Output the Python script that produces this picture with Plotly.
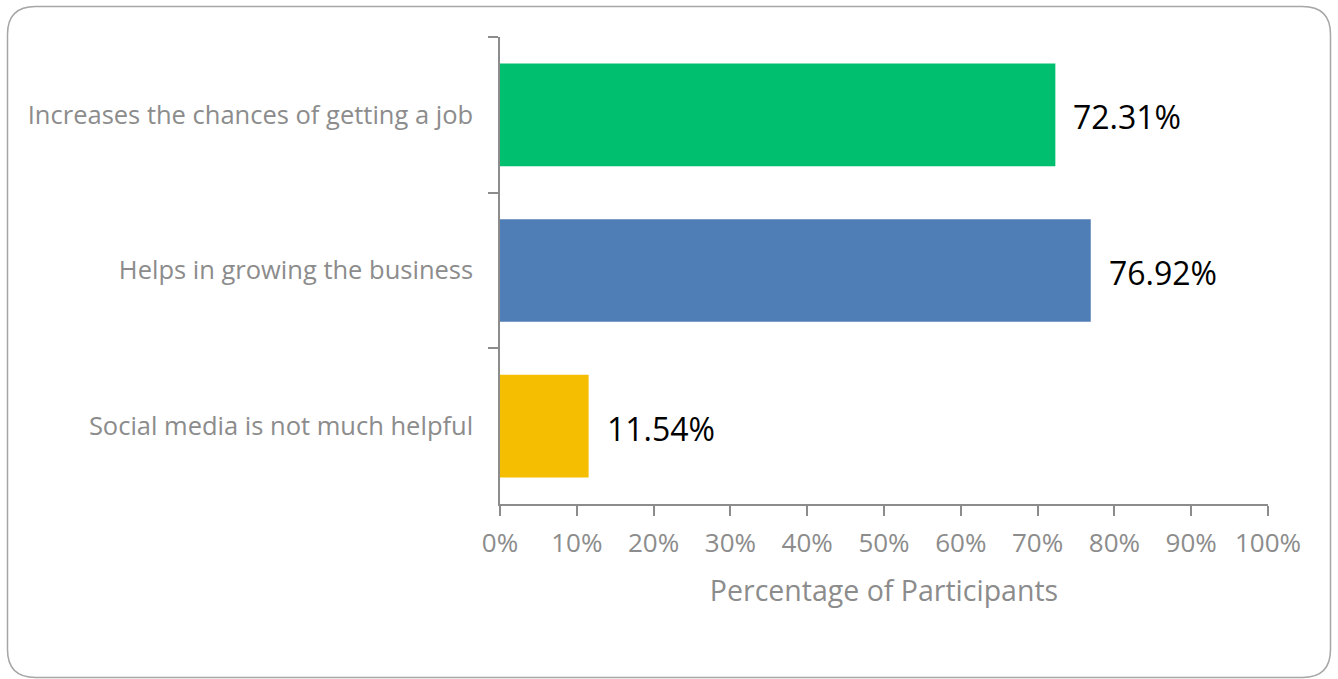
import plotly.graph_objects as go

categories = ["Increases the chances of getting a job",
              "Helps in growing the business",
              "Social media is not much helpful"]
values = [72.31, 76.92, 11.54]
colors = ["#00BF6F", "#4F7DB5", "#F5BE00"]
tick_vals = [0, 10, 20, 30, 40, 50, 60, 70, 80, 90, 100]
tick_text = [f"{v}%" for v in tick_vals]

W, H = 1338, 679
L, R, T, B = 500, 70, 37, 175
FONT = "Open Sans"
GREY = "#8c8c8c"

fig = go.Figure()
fig.add_trace(go.Bar(
    x=values, y=categories, orientation="h",
    marker=dict(color=colors, line=dict(width=0)),
    hoverinfo="skip",
))

for c, v in zip(categories, values):
    fig.add_annotation(x=v, y=c, xref="x", yref="y", text=f"{v:.2f}%",
                       showarrow=False, xanchor="left", xshift=16, yshift=-2,
                       font=dict(family=FONT, size=32, color="#000000"))

# rounded border in paper coordinates
pw, ph = W - L - R, H - T - B
def px(x):
    return (x - L) / pw
def py(y):
    return (H - B - y) / ph
x0, x1, y0, y1, r = 7.5, 1330.5, 6.5, 677.5, 28
path = (f"M {px(x0+r)},{py(y0)} L {px(x1-r)},{py(y0)} Q {px(x1)},{py(y0)} {px(x1)},{py(y0+r)} "
        f"L {px(x1)},{py(y1-r)} Q {px(x1)},{py(y1)} {px(x1-r)},{py(y1)} "
        f"L {px(x0+r)},{py(y1)} Q {px(x0)},{py(y1)} {px(x0)},{py(y1-r)} "
        f"L {px(x0)},{py(y0+r)} Q {px(x0)},{py(y0)} {px(x0+r)},{py(y0)} Z")
fig.add_shape(type="path", path=path, xref="paper", yref="paper",
              line=dict(color="#a6a6a6", width=1.5), layer="below")

fig.update_layout(
    width=W, height=H,
    margin=dict(l=L, r=R, t=T, b=B, pad=0),
    paper_bgcolor="white", plot_bgcolor="white",
    bargap=0.34, showlegend=False,
    font=dict(family=FONT, color=GREY),
    xaxis=dict(range=[0, 100], tickvals=tick_vals, ticktext=tick_text,
               showgrid=False, zeroline=False, showline=True, linecolor=GREY, linewidth=1.5,
               ticks="outside", ticklen=10, tickcolor=GREY, tickwidth=1.5,
               ticklabelstandoff=5,
               tickfont=dict(family=FONT, size=26, color=GREY),
               title=dict(text="Percentage of Participants", standoff=22,
                          font=dict(family=FONT, size=28.5, color=GREY)),
               fixedrange=True),
    yaxis=dict(categoryorder="array", categoryarray=categories, autorange="reversed",
               showgrid=False, zeroline=False, showline=True, linecolor=GREY, linewidth=1.5,
               ticks="outside", ticklen=10, tickcolor=GREY, tickwidth=1.5, tickson="boundaries",
               ticklabelstandoff=20,
               tickfont=dict(family=FONT, size=25.5, color=GREY), fixedrange=True),
)

fig.write_html("out.html", config={"displayModeBar": False})
